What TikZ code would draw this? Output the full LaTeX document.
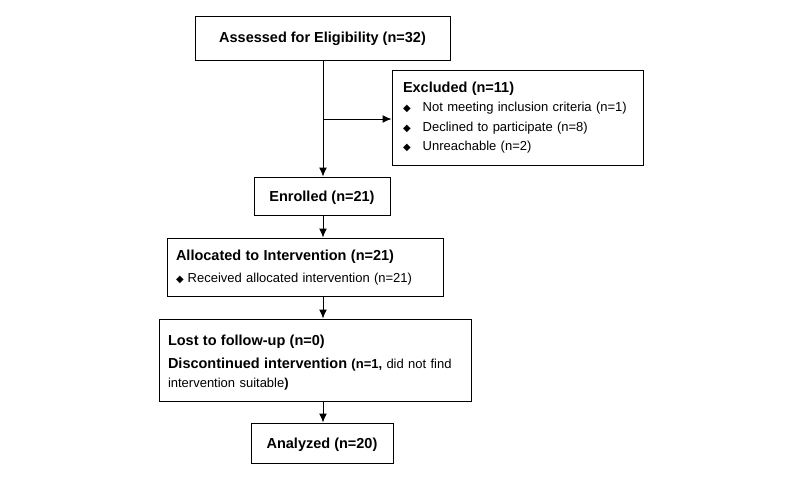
\documentclass[tikz,border=0pt]{standalone}
\usepackage{fontspec}
\setmainfont{Liberation Sans}
\newfontfamily\symfont{DejaVu Sans}
\usetikzlibrary{arrows.meta}
\newcommand{\dmd}{{\symfont\fontsize{10}{10}\selectfont ◆}}
\newcommand{\ttl}[1]{{\bfseries\fontsize{14.5}{19.5}\selectfont #1}}
\begin{document}
\begin{tikzpicture}[x=1pt,y=-1pt,
  box/.style={draw=black,line width=1pt,rectangle,inner sep=0pt,
    font=\fontsize{13}{19.5}\selectfont},
  arr/.style={line width=1pt,-{Latex[length=9pt,width=8pt]}}]
\useasboundingbox[fill=white] (0,0) rectangle (800,480);
\node[box,minimum width=255pt,minimum height=44pt] (assess) at (322.5,38)
  {\rule{0pt}{13pt}\ttl{Assessed for Eligibility (n=32)}};
\node[box,minimum width=251pt,minimum height=95pt,text width=229pt,align=left] (excl) at (517.5,117.5)
  {\ttl{Excluded (n=11)}\\
   \dmd\hspace{12pt}Not meeting inclusion criteria (n=1)\\
   \dmd\hspace{12pt}Declined to participate (n=8)\\
   \dmd\hspace{12pt}Unreachable (n=2)};
\node[box,minimum width=136pt,minimum height=38pt] (enrol) at (322,196)
  {\rule{0pt}{13pt}\ttl{Enrolled (n=21)}};
\node[box,minimum width=276pt,minimum height=58pt,text width=258pt,align=left] (alloc) at (305,267)
  {\rule{0pt}{12pt}\ttl{Allocated to Intervention (n=21)}\\[2pt]
   \dmd\hspace{4pt}Received allocated intervention (n=21)};
\node[box,minimum width=312pt,minimum height=82pt,text width=294pt,align=left] (lost) at (315,360)
  {\rule{0pt}{16.5pt}\ttl{Lost to follow-up (n=0)}\\[3pt]
   \ttl{Discontinued intervention} {\bfseries (n=1,} did not find\\
   intervention suitable{\bfseries )}};
\node[box,minimum width=142pt,minimum height=40pt] (anal) at (322,443)
  {\rule{0pt}{13pt}\ttl{Analyzed (n=20)}};
\coordinate (br) at (323,119);
\coordinate (top) at (323,60);
\draw[arr] (top) -- (top |- enrol.north);
\draw[arr] (br) -- (excl.west |- br);
\draw[arr] (enrol.south -| br) -- (br |- alloc.north);
\draw[arr] (alloc.south -| br) -- (br |- lost.north);
\draw[arr] (lost.south -| br) -- (br |- anal.north);
\end{tikzpicture}
\end{document}
